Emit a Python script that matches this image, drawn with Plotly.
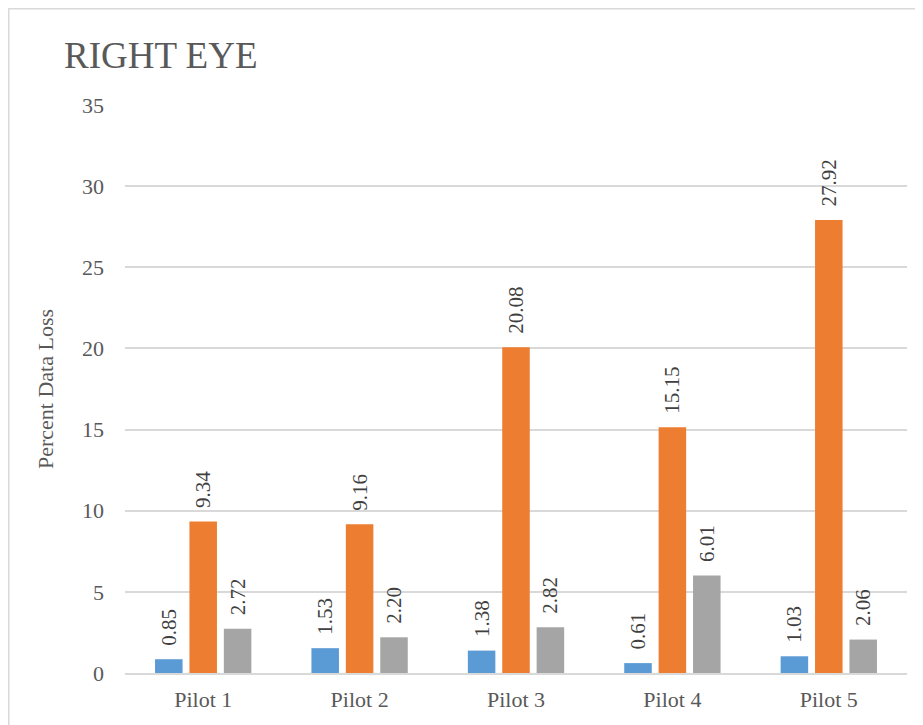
import plotly.graph_objects as go

categories = ["Pilot 1", "Pilot 2", "Pilot 3", "Pilot 4", "Pilot 5"]
series_a = [0.85, 1.53, 1.38, 0.61, 1.03]
series_b = [9.34, 9.16, 20.08, 15.15, 27.92]
series_c = [2.72, 2.20, 2.82, 6.01, 2.06]
series_names = ["Series 1", "Series 2", "Series 3"]
colors = ["#5B9BD5", "#ED7D31", "#A5A5A5"]

FONT = "Liberation Serif, Times New Roman, serif"
OFF = 8  # page body margin
W, H = 923 - OFF, 725 - OFF
L, R, T, B = 125 - OFF, 16, 105 - OFF, 52

fig = go.Figure()
for name, vals, col in zip(series_names, [series_a, series_b, series_c], colors):
    fig.add_trace(go.Bar(
        x=categories, y=vals, name=name, marker=dict(color=col, line=dict(width=0)),
        text=["\u00a0\u00a0" + f"{v:.2f}" for v in vals], textposition="outside", textangle=-90,
        constraintext="none",
        textfont=dict(family=FONT, size=21, color="#404040"), cliponaxis=False,
    ))

pw = W - L - R
ph = H - T - B
fig.add_shape(type="rect", xref="paper", yref="paper",
              x0=(0.75 - L) / pw, x1=(W + 20 - L) / pw,
              y0=-(B + 20) / ph, y1=1 + (T - 0.75) / ph,
              line=dict(color="#D9D9D9", width=1.5), fillcolor="rgba(0,0,0,0)", layer="below")

fig.update_layout(
    width=W, height=H, margin=dict(l=L, r=R, t=T, b=B),
    paper_bgcolor="white", plot_bgcolor="white",
    barmode="group", bargap=0.34, bargroupgap=0.2,
    showlegend=False, uniformtext=dict(mode=False),
    font=dict(family=FONT, color="#595959"),
    title=dict(text="RIGHT EYE", x=(64 - OFF) / W, xanchor="left", xref="container",
               y=1 - (55 - OFF) / H, yanchor="middle", yref="container",
               font=dict(family=FONT, size=37, color="#595959")),
    xaxis=dict(showgrid=False, showline=True, linecolor="#D9D9D9", linewidth=1.5,
               tickfont=dict(family=FONT, size=22, color="#595959"), ticks="",
               ticklabelstandoff=6),
    yaxis=dict(range=[0, 35], dtick=5, showgrid=True, gridcolor="#D9D9D9", gridwidth=1.5,
               zeroline=False, showline=False, ticks="",
               tickfont=dict(family=FONT, size=22, color="#595959"),
               ticklabelstandoff=20,
               title=dict(text="Percent Data Loss", standoff=22,
                          font=dict(family=FONT, size=22, color="#595959"))),
)

fig.write_html("out.html")
